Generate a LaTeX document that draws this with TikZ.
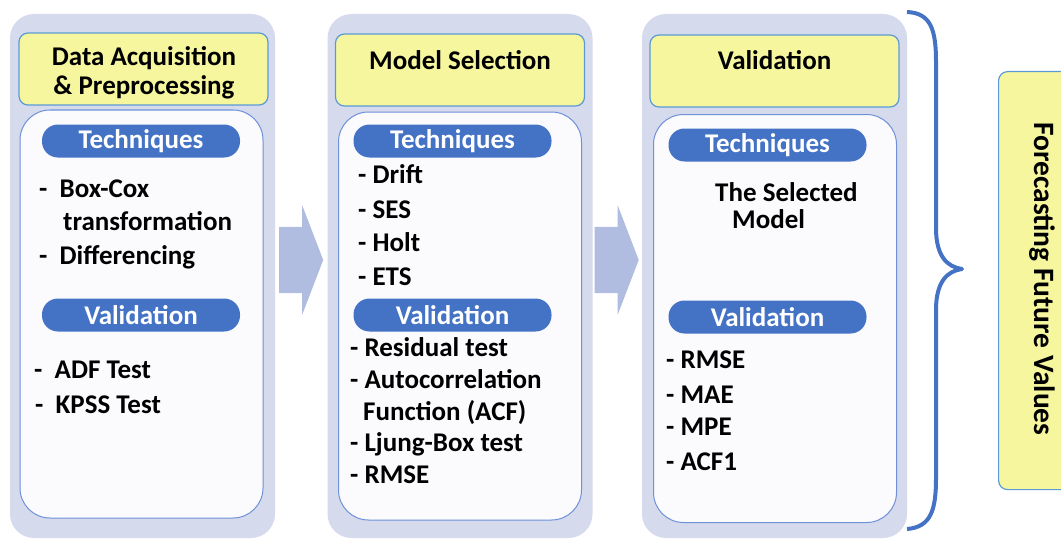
\documentclass[tikz,border=0pt]{standalone}
\usepackage{fontspec}
\setmainfont{Carlito}
\usetikzlibrary{shapes.arrows}

\definecolor{panelbg}{RGB}{213,218,236}
\definecolor{titlefill}{RGB}{246,246,158}
\definecolor{titleline}{RGB}{91,155,213}
\definecolor{boxline}{RGB}{110,145,216}
\definecolor{boxfill}{RGB}{251,251,254}
\definecolor{pillblue}{RGB}{68,114,196}
\definecolor{flowblue}{RGB}{176,188,224}

\begin{document}
\begin{tikzpicture}[x=1pt,y=-1pt,
  panel/.style={fill=panelbg,rounded corners=24pt,minimum width=265pt,minimum height=524pt,inner sep=0pt},
  titlebox/.style={fill=titlefill,draw=titleline,line width=1.2pt,rounded corners=9pt,minimum width=249pt,minimum height=72pt,inner sep=0pt},
  titletext/.style={font=\fontsize{27}{28.5}\selectfont\bfseries,align=center,inner sep=0pt},
  innerbox/.style={fill=boxfill,draw=boxline,line width=1pt,rounded corners=30pt,minimum width=243pt,minimum height=408pt,inner sep=0pt},
  pill/.style={fill=pillblue,rounded corners=16pt,minimum width=198pt,minimum height=33pt,text=white,font=\fontsize{27}{28}\selectfont\bfseries,inner sep=0pt},
  entry/.style={anchor=west,font=\fontsize{27}{28}\selectfont\bfseries,inner sep=0pt,text height=17pt,text depth=0pt},
  flow/.style={single arrow,fill=flowblue,minimum height=44pt,inner xsep=0pt,inner ysep=33pt,single arrow head extend=21.5pt,single arrow tip angle=138}
]
\useasboundingbox (0,0) rectangle (1061,543);

% the three stages
\node (p1) [panel] at (142.5,276) {};
\node (p2) [panel] at (460,276) {};
\node (p3) [panel] at (774.5,276) {};

\node (t1) [titlebox] at (143.5,69) {};
\node (t2) [titlebox] at (460,70) {};
\node (t3) [titlebox] at (774.5,71) {};
\node [titletext] at (144,73) {Data Acquisition\\\& Preprocessing};
\node [titletext] at (460,60) {Model Selection};
\node [titletext] at (774.5,60) {Validation};

\node (i1) [innerbox] at (141.5,314) {};
\node (i2) [innerbox] at (460,316) {};
\node (i3) [innerbox] at (775,318.5) {};

% stage 1
\node (tech1) [pill] at (141,141) {Techniques};
\node [entry] at (39,189) {-\ \ Box-Cox};
\node [entry] at (63,222) {transformation};
\node [entry] at (39,256) {-\ \ Differencing};
\node (val1) [pill] at (141,315) {Validation};
\node [entry] at (34,370) {-\ \ ADF Test};
\node [entry] at (35,405) {-\ \ KPSS Test};

% stage 2
\node (tech2) [pill] at (452.5,141) {Techniques};
\node [entry] at (358,175) {- Drift};
\node [entry] at (358,210) {- SES};
\node [entry] at (358,243) {- Holt};
\node [entry] at (358,277) {- ETS};
\node (val2) [pill] at (452.5,315) {Validation};
\node [entry] at (350,348) {- Residual test};
\node [entry] at (350,380) {- Autocorrelation};
\node [entry] at (363,412) {Function (ACF)};
\node [entry] at (350,443) {- Ljung-Box test};
\node [entry] at (350,475) {- RMSE};

% stage 3
\node (tech3) [pill] at (767.5,145) {Techniques};
\node [entry] at (715,193) {The Selected};
\node [entry] at (732,220) {Model};
\node (val3) [pill] at (767.5,317) {Validation};
\node [entry] at (666,360) {- RMSE};
\node [entry] at (666,395) {- MAE};
\node [entry] at (666,427) {- MPE};
\node [entry] at (666,462) {- ACF1};

% arrows between stages
\node (a1) [flow,anchor=tail] at (279,260) {};
\node (a2) [flow,anchor=tail] at (594.5,260) {};

% brace and result
\draw[pillblue,line width=4pt,line join=round] (907,12) .. controls (931,13) and (936,30) .. (936,62) -- (936,228)
  .. controls (936,256) and (947,267) .. (962,269) .. controls (947,271) and (936,282) .. (936,310)
  -- (936,478) .. controls (936,510) and (931,527) .. (907,529);
\node (fc) [titlebox,minimum width=90pt,minimum height=418pt,anchor=north west] at (998,71) {};
\node [titletext,rotate=-90,font=\fontsize{29.5}{30}\selectfont\bfseries] at (1042,279) {Forecasting Future Values};
\end{tikzpicture}
\end{document}
